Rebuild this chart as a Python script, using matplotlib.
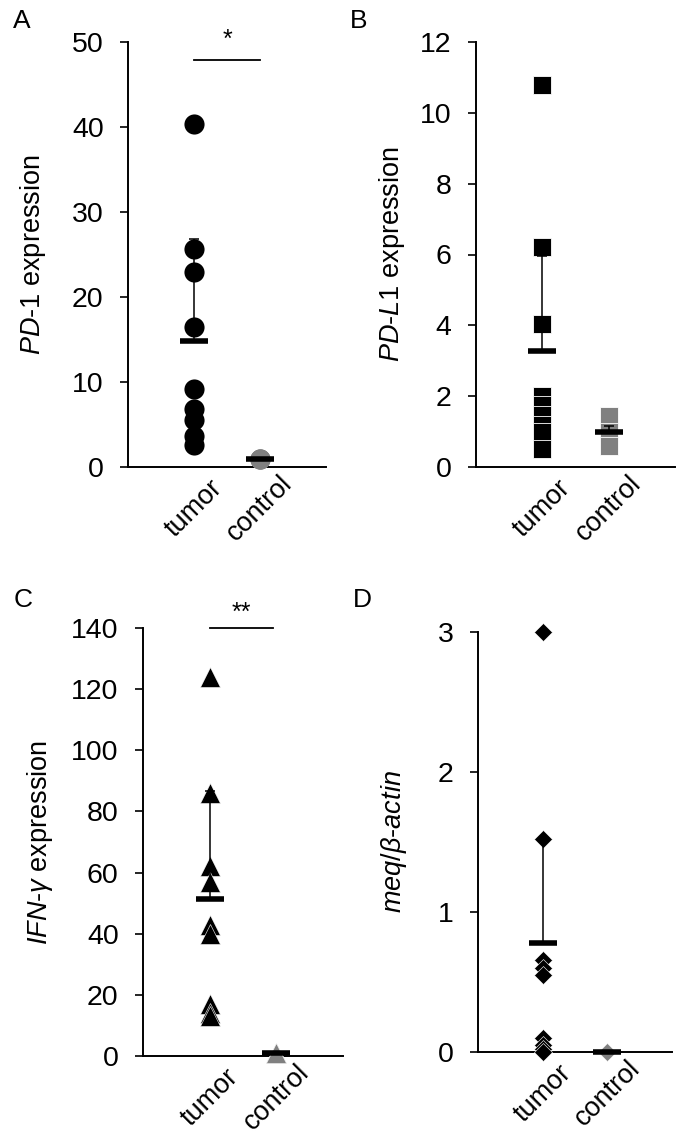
import numpy as np
import matplotlib
matplotlib.use("Agg")
import matplotlib.pyplot as plt
import matplotlib.transforms as mtransforms

plt.rcParams['font.family'] = ['Liberation Sans', 'DejaVu Sans']
plt.rcParams['mathtext.fontset'] = 'custom'
plt.rcParams['mathtext.rm'] = 'Liberation Sans'
plt.rcParams['mathtext.it'] = 'Liberation Sans:italic'

groups = ["tumor", "control"]

# PD-1
pd1_tumor = [40.3, 25.7, 23.0, 16.5, 9.2, 6.8, 5.5, 3.7, 2.6]
pd1_control = [1.0, 1.0, 1.0]
pd1_mean = [14.8, 1.0]
pd1_sd = [12.0, 0.0]

# PD-L1
pdl1_tumor = [10.8, 6.2, 4.05, 2.0, 1.75, 1.47, 1.2, 1.0, 0.5]
pdl1_control = [1.44, 1.0, 0.6]
pdl1_mean = [3.27, 1.0]
pdl1_sd = [2.68, 0.16]

# IFN-gamma
ifn_tumor = [124, 86, 62, 57, 43, 40, 17, 14, 13]
ifn_control = [1.0, 1.0, 1.0]
ifn_mean = [51.4, 1.0]
ifn_sd = [35.2, 0.0]

# meq / beta-actin
meq_tumor = [3.0, 1.52, 0.66, 0.6, 0.55, 0.1, 0.05, 0.02, 0.0]
meq_control = [0.0, 0.0, 0.0]
meq_mean = [0.78, 0.0]
meq_sd = [0.73, 0.0]

W, H = 685, 1143
fig = plt.figure(figsize=(W / 100, H / 100), dpi=100)


def px_axes(left, top, right, bottom):
    return fig.add_axes([left / W, 1 - bottom / H, (right - left) / W, (bottom - top) / H])


def panel(ax, tumor, control, mean, sd, marker, ms, ylim, step, ylabel, label_x, mew=0.6):
    ax.plot(np.ones(len(tumor)), tumor, ls='none', marker=marker, ms=ms,
            mfc='black', mec='white', mew=mew, zorder=3, clip_on=False)
    ax.plot(np.full(len(control), 2), control, ls='none', marker=marker, ms=ms,
            mfc='#808080', mec='white', mew=mew, zorder=3, clip_on=False)
    ax.errorbar([1, 2], mean, yerr=[[0, 0], sd], fmt='none', ecolor='black',
                elinewidth=1.1, capsize=3.6, capthick=1.1, zorder=4)
    ax.plot([1, 2], mean, ls='none', marker='_', ms=19.5, mew=4.0, color='black',
            zorder=5, clip_on=False)
    ax.set_xlim(0, 3)
    ax.set_ylim(*ylim)
    ax.set_yticks(np.arange(ylim[0], ylim[1] + step / 2, step))
    ax.set_xticks([1, 2])
    ax.set_xticklabels(groups, rotation=45, ha='center', va='center')
    # control label sits a little to the right in the original
    lab = ax.get_xticklabels()[1]
    lab.set_transform(lab.get_transform() + mtransforms.ScaledTranslation(6 / 72, 2 / 72, fig.dpi_scale_trans))
    for s in ['top', 'right']:
        ax.spines[s].set_visible(False)
    for s in ['left', 'bottom']:
        ax.spines[s].set_linewidth(1.4)
    ax.tick_params(axis='y', direction='out', length=5.5, width=1.2, pad=12, labelsize=20.5)
    ax.tick_params(axis='x', length=0, pad=30, labelsize=19.5)
    ax.set_ylabel(ylabel, fontsize=19.5)
    tr = mtransforms.blended_transform_factory(fig.transFigure, ax.transAxes)
    ax.yaxis.set_label_coords(label_x / W, 0.5, transform=tr)


axA = px_axes(128, 42, 326, 467)
panel(axA, pd1_tumor, pd1_control, pd1_mean, pd1_sd, 'o', 14.5, (0, 50), 10,
      '$\\mathit{PD\u20101}$ expression', 48, mew=0)
axA.plot([1, 2], [47.9, 47.9], color='black', lw=1.3, clip_on=False)
axA.text(1.5, 48.8, '*', ha='center', va='bottom', fontsize=18)

axB = px_axes(476, 42, 675, 467)
panel(axB, pdl1_tumor, pdl1_control, pdl1_mean, pdl1_sd, 's', 13.5, (0, 12), 2,
      '$\\mathit{PD\u2010L1}$ expression', 407)

axC = px_axes(143, 628, 343, 1056)
panel(axC, ifn_tumor, ifn_control, ifn_mean, ifn_sd, '^', 14.5, (0, 140), 20,
      '$\\mathit{IFN\u2010\u03b3}$ expression', 55, mew=0.4)
axC.plot([1, 1.95], [140, 140], color='black', lw=1.3, clip_on=False)
axC.text(1.47, 141.0, '**', ha='center', va='bottom', fontsize=18)

axD = px_axes(478, 632, 672, 1052)
panel(axD, meq_tumor, meq_control, meq_mean, meq_sd, 'D', 9.5, (0, 3), 1,
      '$\\mathit{meq/\u03b2\u2010actin}$', 409, mew=0.4)

for letter, x, y in [('A', 22, 21), ('B', 359, 21), ('C', 23, 600), ('D', 362, 600)]:
    fig.text(x / W, 1 - y / H, letter, ha='center', va='center', fontsize=19)

fig.savefig('out.png', dpi=100)
